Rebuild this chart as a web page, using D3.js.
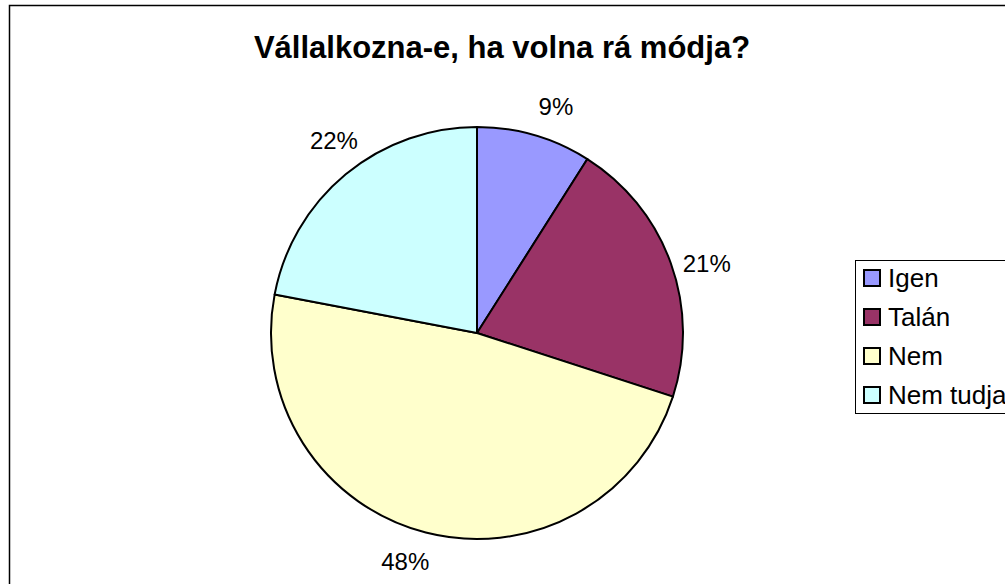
<!DOCTYPE html>
<html>
<head>
<meta charset="utf-8">
<script src="https://cdn.jsdelivr.net/npm/d3@7"></script>
<style>
  body { margin: 0; background: #fff; }
  svg { display: block; font-family: Arial, "Liberation Sans", sans-serif; }
</style>
</head>
<body>
<div class="chart"></div>
<script>
// chart data
var title = "Vállalkozna-e, ha volna rá módja?";
var categories = ["Igen", "Talán", "Nem", "Nem tudja"];
var values = [9, 21, 48, 22];
var colors = ["#9999FF", "#993366", "#FFFFCC", "#CCFFFF"];

var width = 1005;
var height = 584;

var canvas = d3.select(".chart").append("svg")
    .attr("width", width)
    .attr("height", height);

// outer frame (right and bottom edges run off the picture)
canvas.append("rect")
    .attr("x", 9.5)
    .attr("y", 5.5)
    .attr("width", 1010)
    .attr("height", 600)
    .attr("fill", "#fff")
    .attr("stroke", "#000")
    .attr("stroke-width", 1.5);

canvas.append("text")
    .attr("x", 502)
    .attr("y", 58)
    .attr("text-anchor", "middle")
    .attr("font-size", "31px")
    .attr("font-weight", "bold")
    .text(title);

var cx = 477, cy = 333, r = 206;

var pie = d3.pie().sort(null).value(function (d) { return d; });
var arcs = pie(values);
var arc = d3.arc().innerRadius(0).outerRadius(r);

var g = canvas.append("g").attr("transform", "translate(" + cx + "," + cy + ")");

g.selectAll("path")
    .data(arcs)
    .enter()
    .append("path")
    .attr("d", arc)
    .attr("fill", function (d, i) { return colors[i]; })
    .attr("stroke", "#000")
    .attr("stroke-width", 2)
    .attr("stroke-linejoin", "round");

// labels sit a little clockwise of the mid angle, like Excel does
var labelR = 240;
var labelTurn = 3 * Math.PI / 180;

g.selectAll("text.pct")
    .data(arcs)
    .enter()
    .append("text")
    .attr("class", "pct")
    .attr("transform", function (d) {
        var a = (d.startAngle + d.endAngle) / 2 + labelTurn;
        return "translate(" + (labelR * Math.sin(a)) + "," + (-labelR * Math.cos(a)) + ")";
    })
    .attr("text-anchor", "middle")
    .attr("dy", "0.35em")
    .attr("font-size", "24px")
    .text(function (d) { return d.value + "%"; });

// legend
var legend = canvas.append("g").attr("transform", "translate(855,260)");
legend.append("rect")
    .attr("x", 0.5)
    .attr("y", 0.5)
    .attr("width", 200)
    .attr("height", 153)
    .attr("fill", "#fff")
    .attr("stroke", "#000")
    .attr("stroke-width", 1);

var item = legend.selectAll("g.item")
    .data(categories)
    .enter()
    .append("g")
    .attr("class", "item")
    .attr("transform", function (d, i) { return "translate(0," + (18 + i * 39) + ")"; });

item.append("rect")
    .attr("x", 9)
    .attr("y", -8)
    .attr("width", 16)
    .attr("height", 16)
    .attr("fill", function (d, i) { return colors[i]; })
    .attr("stroke", "#000")
    .attr("stroke-width", 2);

item.append("text")
    .attr("x", 33)
    .attr("dy", "0.35em")
    .attr("font-size", "26px")
    .text(function (d) { return d; });
</script>
</body>
</html>
